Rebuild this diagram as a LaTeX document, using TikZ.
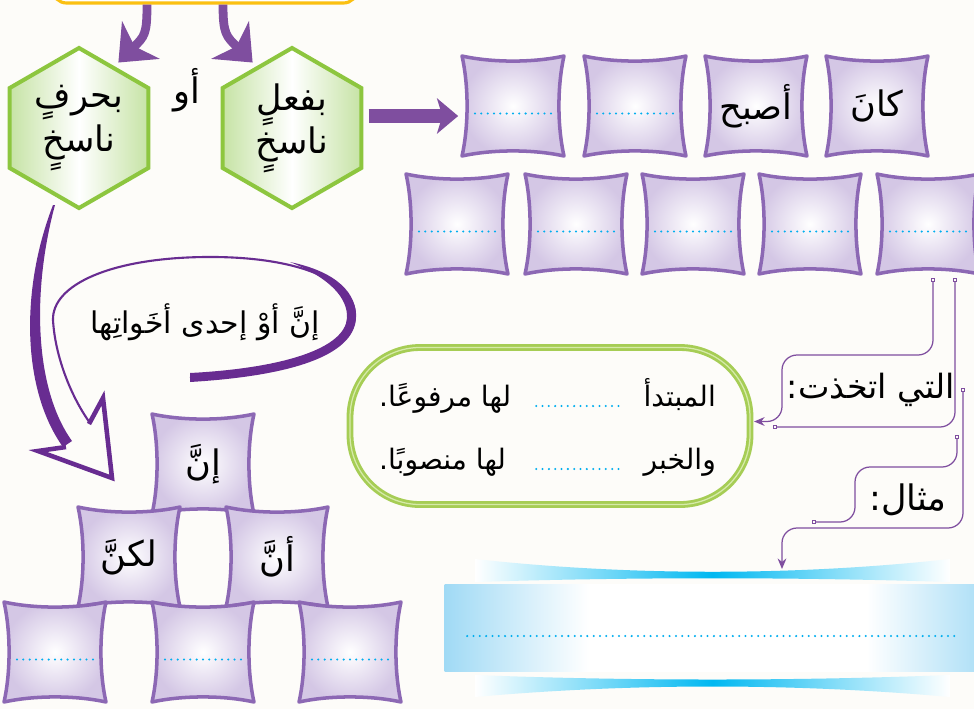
\documentclass[tikz,border=0pt]{standalone}
\usepackage{fontspec}
\usetikzlibrary{arrows.meta,calc,positioning,shapes.geometric}
\newfontfamily\arabicfont[Script=Arabic]{DejaVu Sans}
\TeXXeTstate=1
\newcommand{\arb}[1]{{\arabicfont\beginR #1\endR}}
\definecolor{paper}{RGB}{253,252,249}
\definecolor{nasikh}{RGB}{127,78,159}
\definecolor{bubblepurple}{RGB}{104,44,145}
\definecolor{lilac}{RGB}{212,199,229}
\definecolor{lilacedge}{RGB}{140,104,180}
\definecolor{leaf}{RGB}{141,198,63}
\definecolor{leaflight}{RGB}{198,227,165}
\definecolor{leafband}{RGB}{166,205,85}
\definecolor{leafpale}{RGB}{214,234,170}
\definecolor{dotcyan}{RGB}{0,174,239}
\definecolor{bandblue}{RGB}{160,218,245}
\definecolor{bandcyan}{RGB}{0,184,241}
\definecolor{gold}{RGB}{251,192,17}
\pgfdeclarehorizontalshading{bandshade}{100bp}{color(0bp)=(bandblue); color(25bp)=(bandblue);
  color(38bp)=(white); color(63bp)=(white); color(75bp)=(bandblue); color(100bp)=(bandblue)}

\begin{document}
\begin{tikzpicture}[x=0.2mm,y=-0.2mm,>=Stealth,
    pillow/.style={minimum width=2.18cm,minimum height=2.14cm,inner sep=0pt,
      font=\fontsize{20}{24}\selectfont,
      path picture={
        \coordinate (nw) at ([shift={(2pt,-2pt)}]path picture bounding box.north west);
        \coordinate (ne) at ([shift={(-2pt,-2pt)}]path picture bounding box.north east);
        \coordinate (se) at ([shift={(-2pt,2pt)}]path picture bounding box.south east);
        \coordinate (sw) at ([shift={(2pt,2pt)}]path picture bounding box.south west);
        \shadedraw[inner color=white,outer color=lilac,draw=lilacedge,line width=2pt,line join=round]
          (nw) .. controls ($(nw)!.3!(ne)+(0pt,-1.35mm)$) and ($(nw)!.7!(ne)+(0pt,-1.35mm)$) .. (ne)
               .. controls ($(ne)!.3!(se)+(-1.35mm,0pt)$) and ($(ne)!.7!(se)+(-1.35mm,0pt)$) .. (se)
               .. controls ($(se)!.3!(sw)+(0pt,1.35mm)$) and ($(se)!.7!(sw)+(0pt,1.35mm)$) .. (sw)
               .. controls ($(sw)!.3!(nw)+(1.35mm,0pt)$) and ($(sw)!.7!(nw)+(1.35mm,0pt)$) .. cycle;
      }},
    hexa/.style={regular polygon,regular polygon sides=6,shape border rotate=30,
      minimum size=3.2cm,inner sep=0pt,draw=leaf,line width=2.3pt,
      left color=leaflight,right color=leaflight,middle color=white,
      align=center,font=\fontsize{20}{25}\selectfont},
    fatarrow/.style={nasikh,line width=8pt,-{Stealth[width=20pt,length=12pt,inset=3pt]}},
    curlarrow/.style={nasikh,line width=5pt,-{Stealth[width=30pt,length=18pt,inset=5pt]}},
    leader/.style={nasikh,line width=0.7pt,rounded corners=3mm},
    bluedots/.style={dotcyan,line width=1.3pt,line cap=round,dash pattern=on 0pt off 3.6pt},
    lbl/.style={font=\fontsize{18}{22}\selectfont}]
  \path[use as bounding box,fill=paper] (0,0) rectangle (974,709);
  \clip (0,0) rectangle (974,709);

  % top of the page
  \node[draw=gold,line width=1.8pt,rounded corners=8pt,fill=white,
    minimum width=6.1cm,minimum height=1cm] (asl) at (205,-22) {};
  \node[hexa] (harf) at (79,128) {\arb{بحرفٍ}\\\arb{ناسخٍ}};
  \node[hexa] (fiil) at (292,128) {\arb{بفعلٍ}\\\arb{ناسخٍ}};
  \node[lbl,font=\fontsize{20}{24}\selectfont] (aw) at (187,90) {\arb{أو}};
  \draw[curlarrow,shorten >=3pt] ([xshift=-11.6mm]asl.south) .. controls +(0,30) and +(30,-30) .. (harf.60);
  \draw[curlarrow,shorten >=3pt] ([xshift=3.6mm]asl.south) .. controls +(0,30) and +(-30,-30) .. (fiil.120);

  % kana and her sisters
  \node[pillow] (k1) at (877,106) {\arb{كانَ}};
  \node[pillow] (k2) at (756,106) {\arb{أصبح}};
  \foreach \n/\x/\y in {k3/635/106,k4/513/106,r1/928/224,r2/810/224,r3/693/224,r4/576/224,r5/457/224}
    \node[pillow] (\n) at (\x,\y) {};
  \draw[fatarrow,shorten <=3pt] (fiil.east |- 0,116) -- (k4.west |- 0,116);

  % inna and her sisters
  \node[pillow] (inna) at (203,464) {\arb{إنَّ}};
  \node[pillow] (lakinna) at (129,557) {\arb{لكنَّ}};
  \node[pillow] (anna) at (277,557) {\arb{أنَّ}};
  \foreach \n/\x in {p1/55,p2/203,p3/350}
    \node[pillow] (\n) at (\x,652) {};
  \foreach \n in {k3,k4,r1,r2,r3,r4,r5,p1,p2,p3}
    \draw[bluedots] ([shift={(-7.6mm,-1.5mm)}]\n.center) -- ([shift={(7.6mm,-1.5mm)}]\n.center);

  % bubble with the hollow arrow
  \draw[bubblepurple,line width=1.2pt] (90,423) .. controls (70,395) and (55,355) .. (53,320)
    .. controls (52,285) and (110,258) .. (205,257) .. controls (300,256) and (356,282) .. (355,316)
    .. controls (354,350) and (300,372) .. (190,378);
  \fill[bubblepurple] (290,262) .. controls (338,272) and (357,294) .. (356,318)
    .. controls (354,356) and (290,376) .. (190,382) -- (190,373)
    .. controls (285,368) and (345,348) .. (347,318) .. controls (348,298) and (330,278) .. (290,262) -- cycle;
  \fill[bubblepurple] (53,205) .. controls (20,290) and (22,390) .. (63,447) -- (72,441)
    .. controls (34,388) and (32,290) .. (55,205) -- cycle;
  \draw[bubblepurple,line width=2.6pt,line join=miter] (66,447) -- (38,451) -- (112,478) -- (103,398) -- (89,424);
  \node[lbl,font=\fontsize{17}{20}\selectfont] (ukht) at (205,322) {\arb{إنَّ أوْ إحدى أخَواتِها}};

  % what it takes
  \node[draw=leafband,line width=1.6pt,double=leafpale,double distance=0.7pt,rounded corners=1.4cm,
    minimum width=8cm,minimum height=3.14cm] (jumla) at (550,426) {};
  \node[lbl,font=\fontsize{16}{20}\selectfont,anchor=base east] (mubtada) at (722,406) {\arb{المبتدأ}};
  \node[lbl,font=\fontsize{16}{20}\selectfont,anchor=base west] (marfu) at (373,406) {\arb{لها مرفوعًا.}};
  \node[lbl,font=\fontsize{16}{20}\selectfont,anchor=base east] (khabar) at (722,469) {\arb{والخبر}};
  \node[lbl,font=\fontsize{16}{20}\selectfont,anchor=base west] (mansub) at (373,469) {\arb{لها منصوبًا.}};
  \draw[bluedots] ([xshift=-3.8mm]mubtada.base west) -- ([xshift=3.6mm]marfu.base east);
  \draw[bluedots] ([xshift=-3.8mm]khabar.base west) -- ([xshift=3.6mm]mansub.base east);

  \node[lbl,font=\fontsize{19}{24}\selectfont] (allati) at (871,390) {\arb{التي اتخذت:}};
  \node[lbl,font=\fontsize{20}{24}\selectfont] (mithal) at (908,500) {\arb{مثال:}};

  % example band
  \node[shading=bandshade,minimum width=11.1cm,minimum height=1.74cm] (mithalbox) at (722,628) {};
  \shade[left color=white,right color=white,middle color=bandcyan]
    (475,559) .. controls (630,576) and (795,576) .. (950,559) -- (950,582)
    .. controls (795,577) and (630,577) .. (475,582) -- cycle;
  \shade[left color=white,right color=white,middle color=bandcyan]
    (475,675) .. controls (630,681) and (795,681) .. (950,675) -- (950,697)
    .. controls (795,683) and (630,683) .. (475,697) -- cycle;
  \draw[bluedots] ([shift={(4.6mm,-1.6mm)}]mithalbox.west) -- ([shift={(-8.9mm,-1.6mm)}]mithalbox.east);

  % leader lines
  \coordinate (bfree) at (773,427);
  \coordinate (cstart) at (963,388);
  \coordinate (ctip) at (782,569);
  \coordinate (dstart) at (957,435);
  \coordinate (dend) at (812,522);
  \draw[leader,{Square[open,length=2.5pt,width=2.5pt]}-{Stealth[length=6pt,width=5pt]},shorten >=1.5pt]
    ([xshift=1mm]r1.south) |- (782,355) |- ([yshift=0.9mm]jumla.east);
  \draw[leader,{Square[open,length=2.5pt,width=2.5pt]}-{Square[open,length=2.5pt,width=2.5pt]}]
    ([xshift=5.4mm]r1.south) |- (bfree);
  \draw[leader,{Square[open,length=2.5pt,width=2.5pt]}-{Stealth[length=6pt,width=5pt]}]
    (cstart) |- (782,528) -- (ctip);
  \draw[leader,{Square[open,length=2.5pt,width=2.5pt]}-{Square[open,length=2.5pt,width=2.5pt]}]
    (dstart) |- (855,467) |- (dend);
\end{tikzpicture}
\end{document}
